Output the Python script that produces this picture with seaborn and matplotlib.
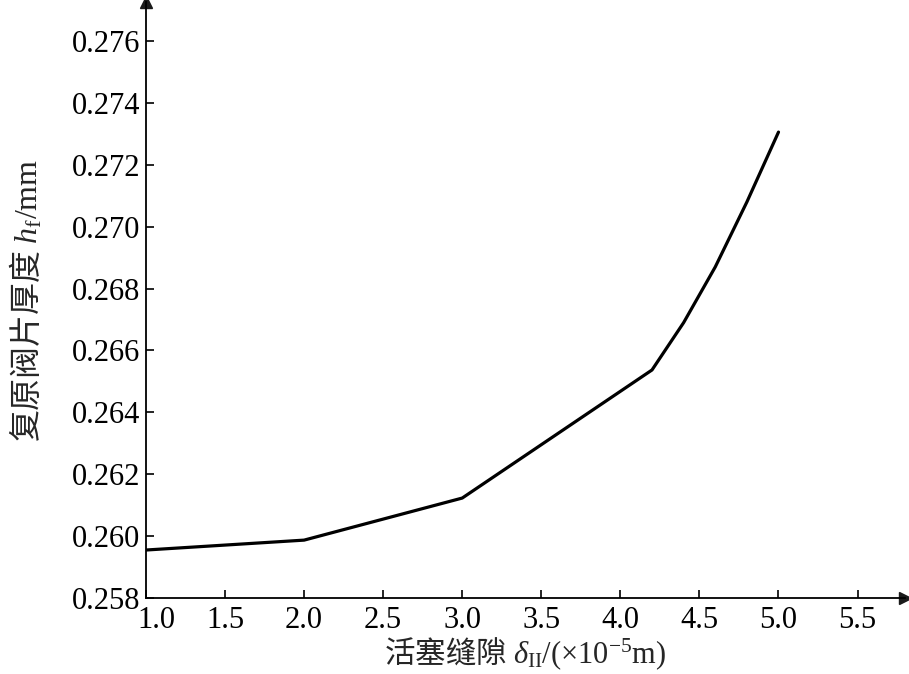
import matplotlib
matplotlib.use("Agg")
import matplotlib.pyplot as plt
import matplotlib.transforms as mtransforms
import seaborn as sns
import pandas as pd

# piston clearance (x1e-5 m) vs rebound valve disc thickness (mm)
clearance = [1.0, 2.0, 3.0, 4.2, 4.4, 4.6, 4.8, 5.0]
thickness = [0.25955, 0.25987, 0.26123, 0.26537, 0.26690, 0.26870, 0.27080, 0.27306]
x_ticks = [1.0, 1.5, 2.0, 2.5, 3.0, 3.5, 4.0, 4.5, 5.0, 5.5]
y_ticks = [0.258, 0.260, 0.262, 0.264, 0.266, 0.268, 0.270, 0.272, 0.274, 0.276]

sns.set_theme(style="ticks")
plt.rcParams["font.family"] = ["Liberation Serif", "Noto Sans CJK SC"]
plt.rcParams["mathtext.fontset"] = "custom"
plt.rcParams["mathtext.rm"] = "Liberation Serif"
plt.rcParams["mathtext.it"] = "Liberation Serif:italic"

df = pd.DataFrame({"x": clearance, "y": thickness})

fig = plt.figure(figsize=(9.09, 6.74), dpi=100)
ax = fig.add_axes([0.1606, 0.1128, 0.835, 0.884])
sns.lineplot(data=df, x="x", y="y", ax=ax, color="black", linewidth=2.3)

ax.set_xlim(1.0, 5.8)
ax.set_ylim(0.258, 0.27726)
ax.set_xticks(x_ticks)
ax.set_xticklabels([f"{v:.1f}" for v in x_ticks])
ax.set_yticks(y_ticks)
ax.set_yticklabels([f"{v:.3f}" for v in y_ticks])
ax.tick_params(direction="in", length=6, width=1.2, labelsize=22, colors="black")
ax.tick_params(axis="x", pad=6)
ax.tick_params(axis="y", pad=4)

# nudge the first x label right so it clears 0.258, as in the original
first = ax.get_xticklabels()[0]
first.set_transform(first.get_transform()
                    + mtransforms.ScaledTranslation(10 / 100, 0, fig.dpi_scale_trans))

for side in ["top", "right"]:
    ax.spines[side].set_visible(False)
for side in ["left", "bottom"]:
    ax.spines[side].set_linewidth(1.3)
    ax.spines[side].set_color("black")

# axis arrows
ax.plot(1, 0, ">k", transform=ax.transAxes, clip_on=False, markersize=9)
ax.plot(0, 1, "^k", transform=ax.transAxes, clip_on=False, markersize=9)

ax.set_xlabel(r"活塞缝隙 $\delta_{\mathrm{II}}/(\times10^{-5}\mathrm{m})$",
              fontsize=22, family="Noto Sans CJK SC", labelpad=0)
ax.set_ylabel(r"复原阀片厚度 $h_{\mathrm{f}}/\mathrm{mm}$",
              fontsize=23, family="Noto Sans CJK SC", labelpad=20)

fig.savefig("out.png", dpi=100)
